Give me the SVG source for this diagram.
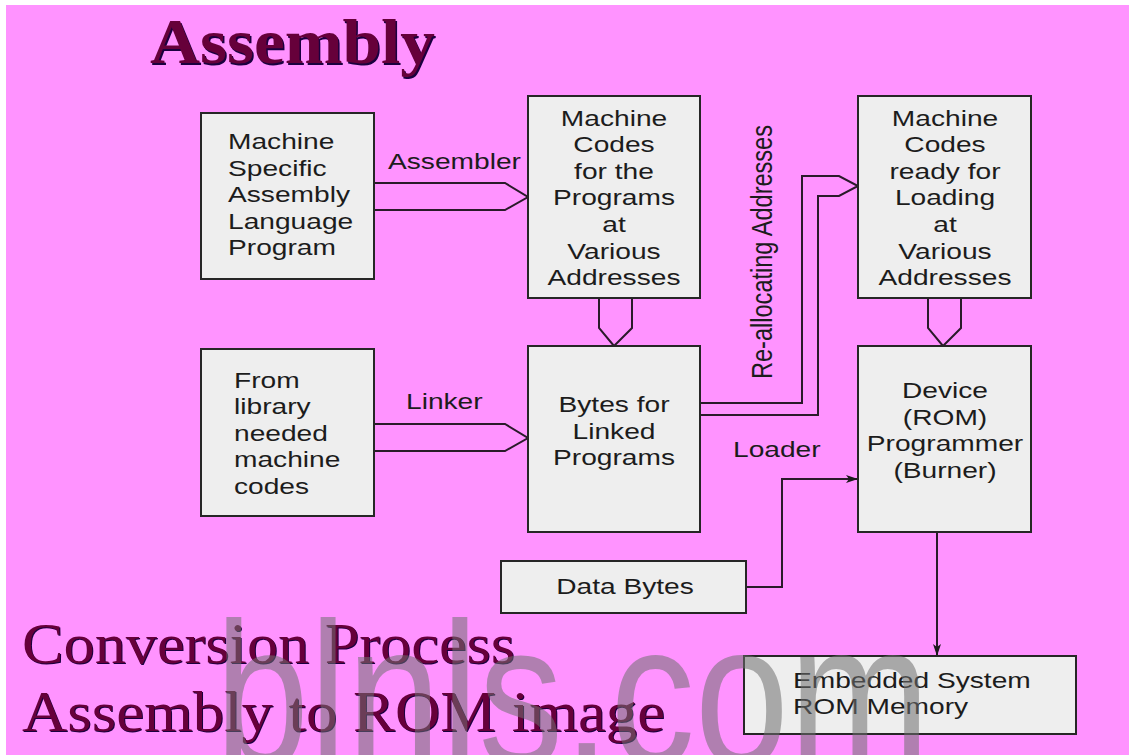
<svg xmlns="http://www.w3.org/2000/svg" width="1129" height="755" viewBox="0 0 1129 755">
<defs>
<style>
.box{fill:#EEEEEE;stroke:#262626;stroke-width:2}
.t{font-family:"Liberation Sans",Arial,sans-serif;font-size:22px;fill:#1c1c1c}
.c{text-anchor:middle}
.fat{fill:none;stroke:#2a1a2a;stroke-width:2;stroke-linejoin:miter}
.ln{fill:none;stroke:#2a1a2a;stroke-width:2}
.serif{font-family:"Liberation Serif","Times New Roman",serif;fill:#66003a}
.shadow{font-family:"Liberation Serif","Times New Roman",serif;fill:#1a0040}
</style>
<marker id="ah" viewBox="0 0 12 8" refX="12" refY="4" markerWidth="12" markerHeight="8" markerUnits="userSpaceOnUse" orient="auto">
<path d="M0,0 L12,4 L0,8 L3,4 Z" fill="#1a1a1a"/>
</marker>
</defs>
<rect x="0" y="0" width="1129" height="755" fill="#FFFFFF"/>
<rect x="6" y="5" width="1123" height="750" fill="#FF93FF"/>

<g id="title">
<text class="shadow" x="151.5" y="64.5" font-size="64" font-weight="bold" textLength="285" lengthAdjust="spacingAndGlyphs">Assembly</text>
<text class="serif" x="150" y="63" font-size="64" font-weight="bold" textLength="285" lengthAdjust="spacingAndGlyphs">Assembly</text>
</g>

<g id="connectors">
<path class="fat" d="M374,183 L505,183 L528,197 L505,210 L374,210"/>
<path class="fat" d="M374,424 L505,424 L528,438 L505,451 L374,451"/>
<path class="fat" d="M599,298 L599,328 L614,346 L632,328 L632,298"/>
<path class="fat" d="M928,298 L928,328 L943,346 L961,328 L961,298"/>
<path class="fat" d="M700,403 L802,403 L802,176 L839,176 L858,186 L839,196 L818,196 L818,415 L700,415"/>
<path class="ln" d="M746,587 L782,587 L782,479 L858,479" marker-end="url(#ah)"/>
<path class="ln" d="M937,532 L937,656" marker-end="url(#ah)"/>
<text class="t" transform="translate(388 0) scale(1.28 1)" y="169">Assembler</text>
<text class="t" transform="translate(406 0) scale(1.28 1)" y="409">Linker</text>
<text class="t" transform="translate(733 0) scale(1.28 1)" y="457">Loader</text>
<text class="t c" style="font-size:23.5px" textLength="254" lengthAdjust="spacingAndGlyphs" transform="translate(772 252) scale(1.25 1) rotate(-90)">Re-allocating Addresses</text>
</g>

<g id="asm-program">
<rect class="box" x="201" y="113" width="173" height="166"/>
<g transform="translate(228 0) scale(1.28 1)">
<text class="t" y="149">Machine</text>
<text class="t" y="176">Specific</text>
<text class="t" y="202">Assembly</text>
<text class="t" y="229">Language</text>
<text class="t" y="255">Program</text>
</g>
</g>

<g id="machine-codes">
<rect class="box" x="528" y="96" width="172" height="202"/>
<g transform="translate(614 0) scale(1.28 1)">
<text class="t c" y="126">Machine</text>
<text class="t c" y="152">Codes</text>
<text class="t c" y="179">for the</text>
<text class="t c" y="205">Programs</text>
<text class="t c" y="232">at</text>
<text class="t c" y="259">Various</text>
<text class="t c" y="285">Addresses</text>
</g>
</g>

<g id="machine-codes-ready">
<rect class="box" x="858" y="96" width="173" height="202"/>
<g transform="translate(945 0) scale(1.28 1)">
<text class="t c" y="126">Machine</text>
<text class="t c" y="152">Codes</text>
<text class="t c" y="179">ready for</text>
<text class="t c" y="205">Loading</text>
<text class="t c" y="232">at</text>
<text class="t c" y="259">Various</text>
<text class="t c" y="285">Addresses</text>
</g>
</g>

<g id="library">
<rect class="box" x="201" y="349" width="173" height="167"/>
<g transform="translate(234 0) scale(1.28 1)">
<text class="t" y="388">From</text>
<text class="t" y="414">library</text>
<text class="t" y="441">needed</text>
<text class="t" y="467">machine</text>
<text class="t" y="494">codes</text>
</g>
</g>

<g id="linked-bytes">
<rect class="box" x="528" y="346" width="172" height="186"/>
<g transform="translate(614 0) scale(1.28 1)">
<text class="t c" y="412">Bytes for</text>
<text class="t c" y="439">Linked</text>
<text class="t c" y="465">Programs</text>
</g>
</g>

<g id="programmer">
<rect class="box" x="858" y="346" width="173" height="186"/>
<g transform="translate(945 0) scale(1.28 1)">
<text class="t c" y="398">Device</text>
<text class="t c" y="425">(ROM)</text>
<text class="t c" y="451">Programmer</text>
<text class="t c" y="478">(Burner)</text>
</g>
</g>

<g id="data-bytes">
<rect class="box" x="501" y="561" width="245" height="52"/>
<text class="t c" transform="translate(625 0) scale(1.28 1)" y="594">Data Bytes</text>
</g>

<g id="rom-memory">
<rect class="box" x="744" y="656" width="332" height="78"/>
<g transform="translate(793 0) scale(1.28 1)">
<text class="t" y="688">Embedded System</text>
<text class="t" y="714">ROM Memory</text>
</g>
</g>

<g id="caption">
<text class="shadow" x="23" y="664" font-size="56" textLength="493" lengthAdjust="spacingAndGlyphs">Conversion Process</text>
<text class="serif" x="22" y="663" font-size="56" textLength="493" lengthAdjust="spacingAndGlyphs">Conversion Process</text>
<text class="shadow" x="23" y="732" font-size="56" textLength="643" lengthAdjust="spacingAndGlyphs">Assembly to ROM image</text>
<text class="serif" x="22" y="731" font-size="56" textLength="643" lengthAdjust="spacingAndGlyphs">Assembly to ROM image</text>
</g>

<g id="watermark">
<text x="215" y="765" font-family="'Liberation Sans',Arial,sans-serif" font-size="205" fill="#707070" fill-opacity="0.55" textLength="715" lengthAdjust="spacingAndGlyphs">blnls.com</text>
</g>
</svg>
